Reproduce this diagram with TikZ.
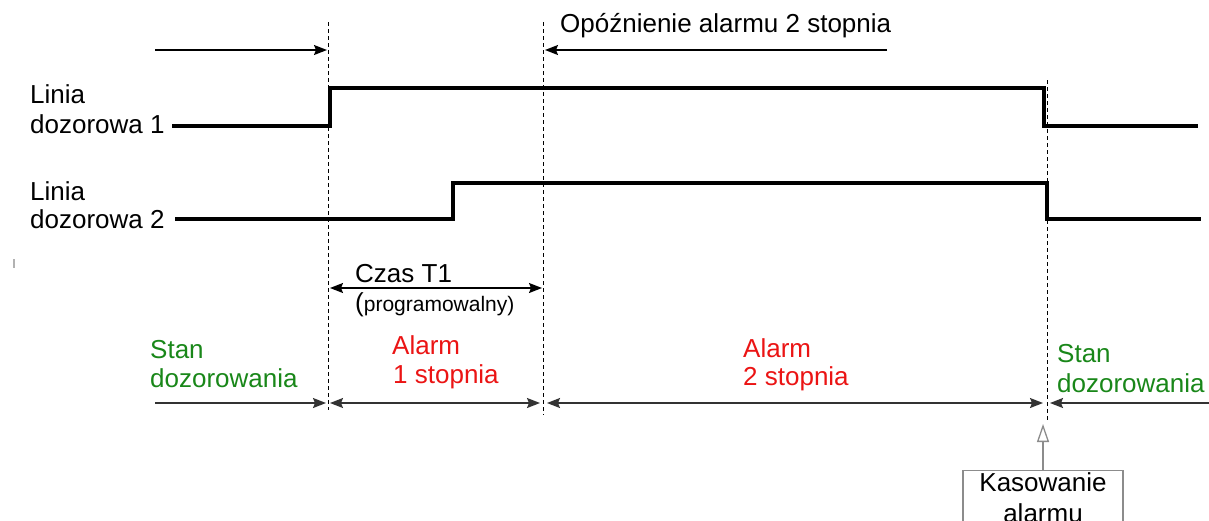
\documentclass[tikz,border=0pt]{standalone}
\usepackage{fontspec}
\setmainfont{Liberation Sans}
\usetikzlibrary{arrows.meta}
\definecolor{stgreen}{RGB}{25,135,25}
\definecolor{stred}{RGB}{235,20,20}
\begin{document}
\begin{tikzpicture}[x=1pt,y=-1pt,
  lbl/.style={anchor=base west,inner sep=0pt,font=\fontsize{26}{30}\selectfont},
  small/.style={anchor=base west,inner sep=0pt,font=\fontsize{21}{24}\selectfont},
  sig/.style={line width=4pt,line join=miter},
  guide/.style={line width=1pt,dash pattern=on 4pt off 3pt},
  dim/.style={line width=1.5pt,-{Stealth[length=13pt,width=10pt,inset=2pt]}},
  dimb/.style={line width=1.5pt,{Stealth[length=13pt,width=10pt,inset=2pt]}-{Stealth[length=13pt,width=10pt,inset=2pt]}},
  kasbox/.style={draw=black!45,line width=1.3pt,inner sep=0pt,minimum width=160pt,minimum height=90pt,anchor=north},
  kastext/.style={inner sep=0pt,anchor=north,align=center,font=\fontsize{26}{31}\selectfont}
]
\useasboundingbox (0,0) rectangle (1209,520);
\fill[white] (0,0) rectangle (1209,520);
% guide lines
\coordinate (gAt) at (328,22); \coordinate (gAb) at (328,410);
\coordinate (gBt) at (543,22); \coordinate (gBb) at (543,415);
\coordinate (gCt) at (1047,80); \coordinate (gCb) at (1047,420);
\draw[guide] (gAt) -- (gAb);
\draw[guide] (gBt) -- (gBb);
\draw[guide] (gCt) -- (gCb);
% top arrows
\coordinate (t1) at (155,50); \coordinate (t2) at (327,50);
\coordinate (t3) at (887,50); \coordinate (t4) at (545,50);
\draw[dim] (t1) -- (t2);
\draw[dim] (t3) -- (t4);
\node[lbl] (opoz) at (560,32) {Opóźnienie alarmu 2 stopnia};
% signal 1
\coordinate (a0) at (172,126); \coordinate (a1) at (330,126); \coordinate (a2) at (330,88);
\coordinate (a3) at (1044,88); \coordinate (a4) at (1044,126); \coordinate (a5) at (1198,126);
\draw[sig] (a0) -- (a1) -- (a2) -- (a3) -- (a4) -- (a5);
% signal 2
\coordinate (b0) at (175,219); \coordinate (b1) at (453,219); \coordinate (b2) at (453,183);
\coordinate (b3) at (1047,183); \coordinate (b4) at (1047,219); \coordinate (b5) at (1201,219);
\draw[sig] (b0) -- (b1) -- (b2) -- (b3) -- (b4) -- (b5);
% left labels
\node[lbl] (l1a) at (30,103) {Linia};
\node[lbl] (l1b) at (30,133) {dozorowa 1};
\node[lbl] (l2a) at (30,200) {Linia};
\node[lbl] (l2b) at (30,228) {dozorowa 2};
% stray mark
\fill[black!30] (13,259) rectangle (15,268);
% Czas T1
\coordinate (c1) at (330,288); \coordinate (c2) at (542,288);
\draw[dimb] (c1) -- (c2);
\node[lbl] (czas) at (355,282) {Czas T1};
\node[small] (prog) at (355,311) {{\fontsize{26}{30}\selectfont(}programowalny)};
% bottom arrows
\coordinate (d1) at (155,403); \coordinate (d2) at (326,403);
\coordinate (d3) at (330,403); \coordinate (d4) at (540,403);
\coordinate (d5) at (547,403); \coordinate (d6) at (1043,403);
\coordinate (d7) at (1209,403); \coordinate (d8) at (1050,403);
\draw[dim,black!80] (d1) -- (d2);
\draw[dimb,black!80] (d3) -- (d4);
\draw[dimb,black!80] (d5) -- (d6);
\draw[dim,black!80] (d7) -- (d8);
% state labels
\node[lbl,text=stgreen] (s1a) at (150,358) {Stan};
\node[lbl,text=stgreen] (s1b) at (150,387) {dozorowania};
\node[lbl,text=stred] (r1a) at (392,354) {Alarm};
\node[lbl,text=stred] (r1b) at (393,383) {1 stopnia};
\node[lbl,text=stred] (r2a) at (743,357) {Alarm};
\node[lbl,text=stred] (r2b) at (743,385) {2 stopnia};
\node[lbl,text=stgreen] (s2a) at (1057,362) {Stan};
\node[lbl,text=stgreen] (s2b) at (1057,392) {dozorowania};
% reset box
\node[kasbox] (kas) at (1043,470) {};
\node[kastext] (kast) at (1043,472) {Kasowanie\\alarmu};
\coordinate (ktip) at (1043,424);
\draw[black!45,line width=1.3pt,-{Triangle[open,length=18pt,width=12pt]}] (kas.north) -- (ktip);
\end{tikzpicture}
\end{document}
